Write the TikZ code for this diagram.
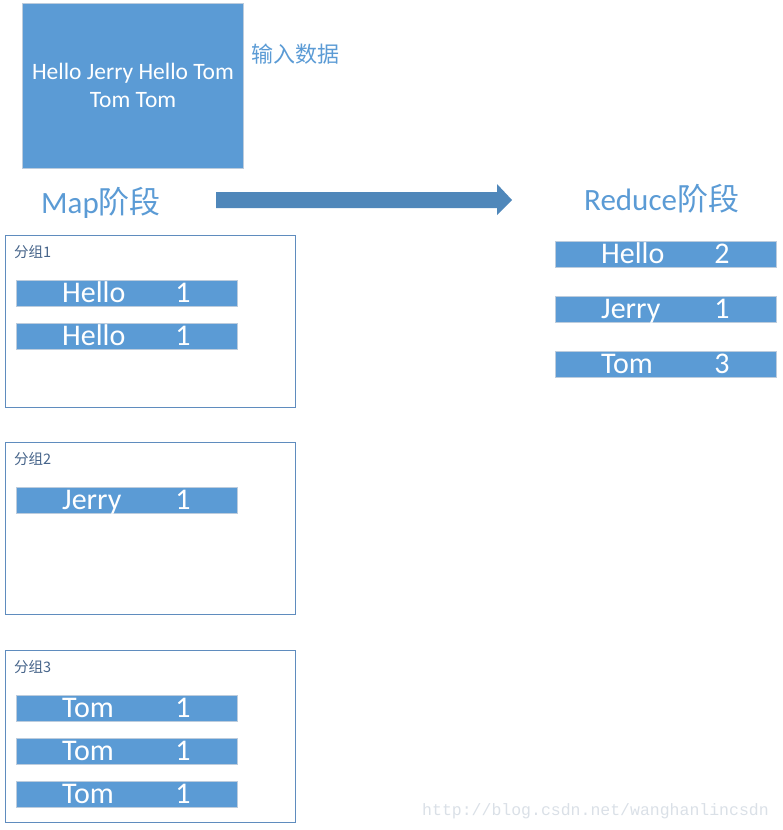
\documentclass[tikz,border=0pt]{standalone}
\usepackage{fontspec}
\setmainfont{Carlito}
\newfontfamily\cjk{Noto Sans CJK SC}
\newfontfamily\wmfont{Liberation Mono}
\definecolor{boxblue}{HTML}{5B9BD5}
\definecolor{arrowblue}{HTML}{4F87BA}
\definecolor{frameblue}{HTML}{5F8CBE}
\definecolor{barline}{HTML}{BCCCDD}
\definecolor{grouptxt}{HTML}{46648A}
\definecolor{wmgray}{HTML}{DAE0E7}
\tikzset{
  kvbarbox/.style={draw=barline, line width=0.8pt, fill=boxblue, minimum width=221pt, minimum height=26pt, inner sep=0pt, anchor=north west},
  bartext/.style={text=white, font=\fontsize{30}{34}\selectfont, inner sep=0pt, anchor=base west},
  barnum/.style={text=white, font=\fontsize{30}{34}\selectfont, inner sep=0pt, anchor=base},
  groupbox/.style={draw=frameblue, line width=0.9pt, fill=white, minimum width=290pt, minimum height=172pt, inner sep=0pt, anchor=north west},
  grouplabel/.style={text=grouptxt, font=\cjk\fontsize{14.5}{18}\selectfont, inner sep=0pt, anchor=base west},
  stagetitle/.style={text=boxblue, font=\fontsize{31}{36}\selectfont, inner sep=0pt, anchor=base west},
}
\newcommand\kvbar[5]{%
  \node[kvbarbox] (#1) at (#2,#3) {};
  \node[bartext] (#1w) at ([xshift=46pt,yshift=-9.5pt]#1.west) {#4};
  \node[barnum] (#1n) at ([xshift=167pt,yshift=-9.5pt]#1.west) {#5};
}
\begin{document}
\begin{tikzpicture}[x=1pt,y=-1pt]
\useasboundingbox (0,0) rectangle (782,830);
% input
\node[draw=barline, line width=0.8pt, fill=boxblue, minimum width=221pt, minimum height=165pt, inner sep=0pt, anchor=north west] (input) at (22,3) {};
\node[text=white, font=\fontsize{23.5}{28}\selectfont, align=center, inner sep=0pt, anchor=base] (intext) at (133,107) {Hello Jerry Hello Tom\\Tom Tom};
\node[text=boxblue, font=\cjk\fontsize{22}{26}\selectfont, inner sep=0pt, anchor=base west] (inlabel) at (251,62) {输入数据};
% stage titles
\node[stagetitle] (map) at (41,213) {Map{\cjk 阶段}};
\node[stagetitle] (reduce) at (584,210) {Reduce{\cjk 阶段}};
% arrow
\fill[arrowblue] (216,192) -- (497,192) -- (497,184) -- (512,200) -- (497,215) -- (497,208) -- (216,208) -- cycle;
% groups
\node[groupbox] (g1) at (5,235) {};
\node[grouplabel] (g1l) at (14,257) {分组1};
\node[groupbox] (g2) at (5,442) {};
\node[grouplabel] (g2l) at (14,464) {分组2};
\node[groupbox] (g3) at (5,650) {};
\node[grouplabel] (g3l) at (14,672) {分组3};
\kvbar{b1}{16}{280}{Hello}{1}
\kvbar{b2}{16}{323}{Hello}{1}
\kvbar{b3}{16}{487}{Jerry}{1}
\kvbar{b4}{16}{695}{Tom}{1}
\kvbar{b5}{16}{738}{Tom}{1}
\kvbar{b6}{16}{781}{Tom}{1}
% reduce
\kvbar{r1}{555}{241}{Hello}{2}
\kvbar{r2}{555}{296}{Jerry}{1}
\kvbar{r3}{555}{351}{Tom}{3}
% watermark
\node[text=wmgray, font=\wmfont\fontsize{16.5}{18}\selectfont, inner sep=0pt, anchor=base west] (wm) at (422,815) {http://blog.csdn.net/wanghanlincsdn};
\end{tikzpicture}
\end{document}
